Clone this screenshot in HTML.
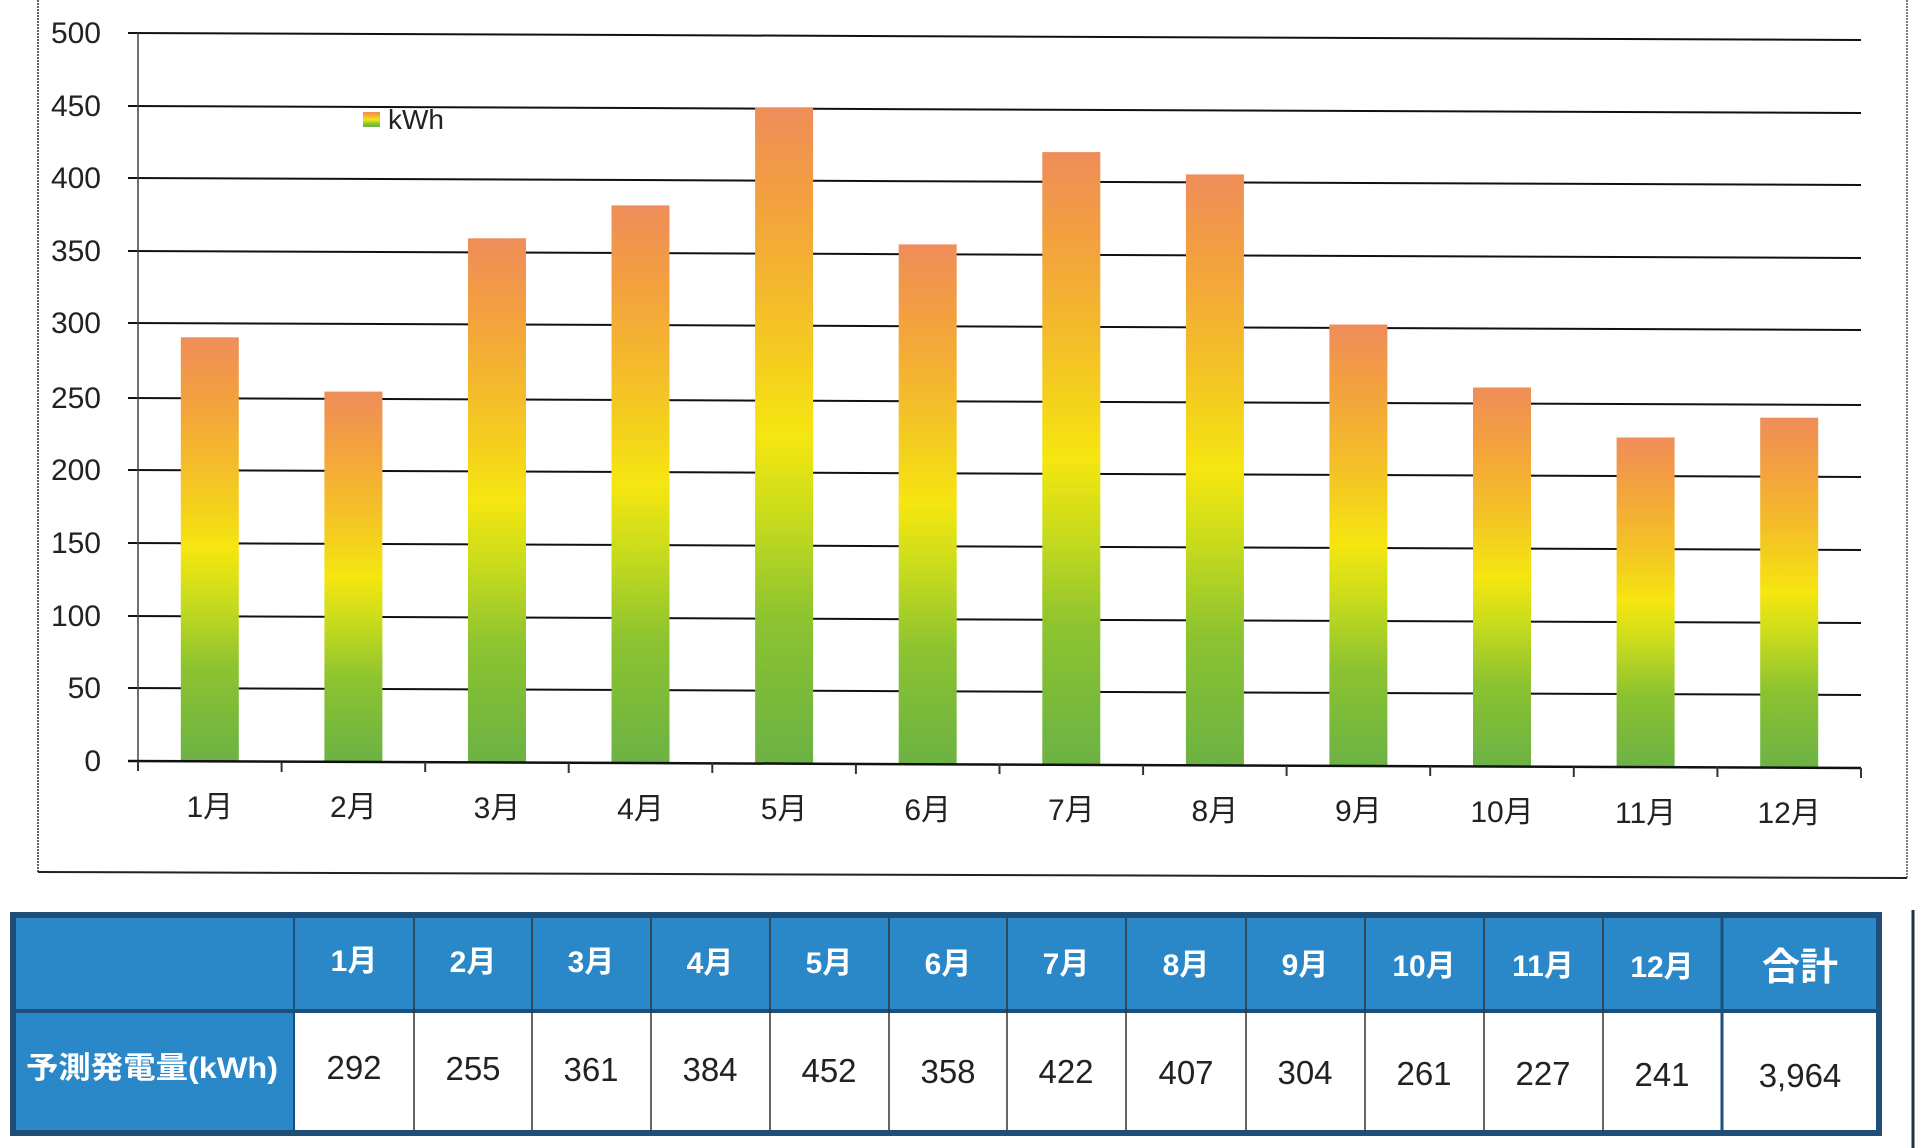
<!DOCTYPE html>
<html><head><meta charset="utf-8"><style>
html,body{margin:0;padding:0;background:#fff;}
svg{display:block;}
text{font-family:"Liberation Sans","Noto Sans CJK JP",sans-serif;}
</style></head><body>
<svg width="1919" height="1148" viewBox="0 0 1919 1148" xmlns="http://www.w3.org/2000/svg">
<defs>
<linearGradient id="g" x1="0" y1="1" x2="0" y2="0">
<stop offset="0" stop-color="#6cb244"/>
<stop offset="0.22" stop-color="#8cc330"/>
<stop offset="0.38" stop-color="#c9dc1c"/>
<stop offset="0.5" stop-color="#f5e610"/>
<stop offset="0.68" stop-color="#f4c027"/>
<stop offset="0.86" stop-color="#f3a03f"/>
<stop offset="1" stop-color="#ef8d5a"/>
</linearGradient>
</defs>
<line x1="38" y1="0" x2="38" y2="872" stroke="#333" stroke-width="1.5" stroke-dasharray="2,1"/>
<line x1="38" y1="872" x2="1907" y2="878" stroke="#222" stroke-width="2"/>
<line x1="1907" y1="0" x2="1907" y2="878" stroke="#555" stroke-width="1.5" stroke-dasharray="2,1"/>
<line x1="1913" y1="910" x2="1913" y2="1148" stroke="#234" stroke-width="3"/>
<g stroke="#111" stroke-width="2">
<line x1="128" y1="33" x2="1861" y2="40"/>
<line x1="128" y1="106" x2="1861" y2="113"/>
<line x1="128" y1="178" x2="1861" y2="185"/>
<line x1="128" y1="251" x2="1861" y2="258"/>
<line x1="128" y1="323" x2="1861" y2="330"/>
<line x1="128" y1="398" x2="1861" y2="405"/>
<line x1="128" y1="470" x2="1861" y2="477"/>
<line x1="128" y1="543" x2="1861" y2="550"/>
<line x1="128" y1="616" x2="1861" y2="623"/>
<line x1="128" y1="688" x2="1861" y2="695"/>
</g>
<line x1="138" y1="33" x2="138" y2="770" stroke="#444" stroke-width="1.5"/>
<g fill="url(#g)">
<rect x="180.8" y="337.3" width="58" height="424"/>
<rect x="324.4" y="391.6" width="58" height="370.3"/>
<rect x="468" y="238.3" width="58" height="524.2"/>
<rect x="611.5" y="205.4" width="58" height="557.6"/>
<rect x="755.1" y="107.3" width="58" height="656.3"/>
<rect x="898.7" y="244.4" width="58" height="519.8"/>
<rect x="1042.3" y="152.1" width="58" height="612.7"/>
<rect x="1185.9" y="174.4" width="58" height="591"/>
<rect x="1329.4" y="324.5" width="58" height="441.4"/>
<rect x="1473" y="387.5" width="58" height="379"/>
<rect x="1616.6" y="437.5" width="58" height="329.6"/>
<rect x="1760.2" y="417.7" width="58" height="350"/>
</g>
<line x1="128" y1="761" x2="1861" y2="768" stroke="#111" stroke-width="2.5"/>
<g stroke="#333" stroke-width="2">
<line x1="138" y1="761" x2="138" y2="771"/><line x1="281.6" y1="762" x2="281.6" y2="772"/>
<line x1="425.2" y1="762" x2="425.2" y2="772"/><line x1="568.7" y1="763" x2="568.7" y2="773"/>
<line x1="712.3" y1="763" x2="712.3" y2="773"/><line x1="855.9" y1="764" x2="855.9" y2="774"/>
<line x1="999.5" y1="764" x2="999.5" y2="774"/><line x1="1143.1" y1="765" x2="1143.1" y2="775"/>
<line x1="1286.6" y1="766" x2="1286.6" y2="776"/><line x1="1430.2" y1="766" x2="1430.2" y2="776"/>
<line x1="1573.8" y1="767" x2="1573.8" y2="777"/><line x1="1717.4" y1="767" x2="1717.4" y2="777"/>
<line x1="1861" y1="768" x2="1861" y2="778"/>
</g>
<g font-size="30" fill="#222" text-anchor="end">
<text x="101" y="43">500</text><text x="101" y="116">450</text><text x="101" y="188">400</text>
<text x="101" y="261">350</text><text x="101" y="333">300</text><text x="101" y="408">250</text>
<text x="101" y="480">200</text><text x="101" y="553">150</text><text x="101" y="626">100</text>
<text x="101" y="698">50</text><text x="101" y="771">0</text>
</g>
<g font-size="30" fill="#222" text-anchor="middle">
<text x="209.8" y="817">1月</text><text x="353.4" y="817">2月</text><text x="497" y="818">3月</text>
<text x="640.5" y="819">4月</text><text x="784.1" y="819">5月</text><text x="927.7" y="820">6月</text>
<text x="1071.3" y="820">7月</text><text x="1214.9" y="821">8月</text><text x="1358.4" y="821">9月</text>
<text x="1502" y="822">10月</text><text x="1645.6" y="823">11月</text><text x="1789.2" y="823">12月</text>
</g>
<rect x="363" y="112" width="17" height="15" fill="url(#g)"/>
<text x="388" y="129" font-size="28" fill="#222">kWh</text>
<rect x="10" y="912" width="1872" height="224" fill="#1f4e79"/>
<rect x="16" y="918" width="1860" height="94" fill="#2a88c8"/>
<rect x="16" y="1012" width="278" height="118" fill="#2a88c8"/>
<rect x="294" y="1012" width="1582" height="118" fill="#fff"/>
<line x1="16" y1="1011" x2="1876" y2="1011" stroke="#1f4e79" stroke-width="4"/>
<line x1="294" y1="918" x2="294" y2="1130" stroke="#1f4e79" stroke-width="2"/>
<g stroke="#333" stroke-width="1.5">
<line x1="414" y1="918" x2="414" y2="1130"/><line x1="532" y1="918" x2="532" y2="1130"/>
<line x1="651" y1="918" x2="651" y2="1130"/><line x1="770" y1="918" x2="770" y2="1130"/>
<line x1="889" y1="918" x2="889" y2="1130"/><line x1="1007" y1="918" x2="1007" y2="1130"/>
<line x1="1126" y1="918" x2="1126" y2="1130"/><line x1="1246" y1="918" x2="1246" y2="1130"/>
<line x1="1365" y1="918" x2="1365" y2="1130"/><line x1="1484" y1="918" x2="1484" y2="1130"/>
<line x1="1603" y1="918" x2="1603" y2="1130"/>
</g>
<line x1="1722" y1="918" x2="1722" y2="1130" stroke="#1f4e79" stroke-width="3"/>
<g font-size="30" font-weight="bold" fill="#fff" text-anchor="middle">
<text x="354" y="971">1月</text><text x="473" y="972">2月</text><text x="591" y="972">3月</text>
<text x="710" y="973">4月</text><text x="829" y="973">5月</text><text x="948" y="974">6月</text>
<text x="1066" y="974">7月</text><text x="1186" y="975">8月</text><text x="1305" y="975">9月</text>
<text x="1424" y="976">10月</text><text x="1543" y="976">11月</text><text x="1662" y="977">12月</text>
<text x="1800" y="980" font-size="38">合計</text>
<text x="152" y="1078" font-size="30" textLength="252" lengthAdjust="spacingAndGlyphs">予測発電量(kWh)</text>
</g>
<g font-size="33" fill="#222" text-anchor="middle">
<text x="354" y="1079">292</text><text x="473" y="1080">255</text><text x="591" y="1081">361</text>
<text x="710" y="1081">384</text><text x="829" y="1082">452</text><text x="948" y="1083">358</text>
<text x="1066" y="1083">422</text><text x="1186" y="1084">407</text><text x="1305" y="1084">304</text>
<text x="1424" y="1085">261</text><text x="1543" y="1085">227</text><text x="1662" y="1086">241</text>
<text x="1800" y="1087">3,964</text>
</g>
</svg>
</body></html>
